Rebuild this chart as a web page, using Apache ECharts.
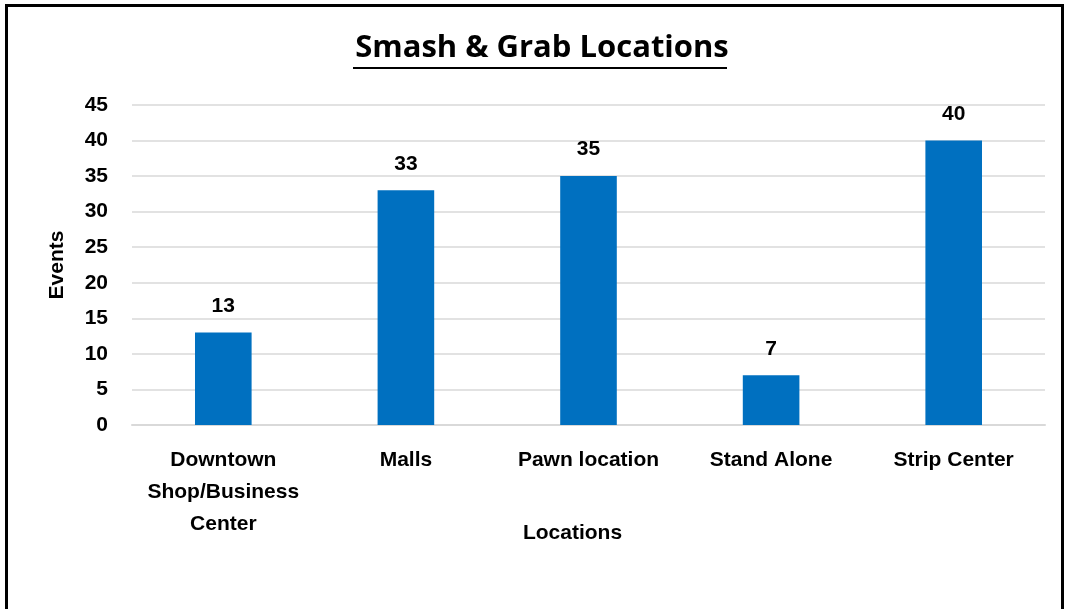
<!DOCTYPE html>
<html>
<head>
<meta charset="utf-8">
<script src="https://cdn.jsdelivr.net/npm/echarts@6/dist/echarts.min.js"></script>
<style>
  html, body { margin: 0; padding: 0; background: #fff; }
  #chart { width: 1065px; height: 609px; }
</style>
</head>
<body>
<div id="chart"></div>
<script>
const categories = ["Downtown\nShop/Business\nCenter", "Malls", "Pawn location", "Stand Alone", "Strip Center"];
const events = [13, 33, 35, 7, 40];
const yTicks = { min: 0, max: 45, interval: 5 };

const chart = echarts.init(document.getElementById("chart"));
const font = "'Liberation Sans', Arial, sans-serif";

chart.setOption({
  animation: false,
  backgroundColor: "#fff",
  title: {
    text: "Smash & Grab Locations",
    left: 537,
    textAlign: "center",
    top: 28,
    textStyle: { fontFamily: "'Open Sans', sans-serif", fontWeight: "bold", fontSize: 31, color: "#000" },
  },
  graphic: [
    {
      type: "rect",
      shape: { x: 6.5, y: 5.5, width: 1056, height: 620 },
      style: { fill: null, stroke: "#000", lineWidth: 3 },
      silent: true,
    },
    {
      type: "rect",
      shape: { x: 353, y: 67, width: 374, height: 2 },
      style: { fill: "#000" },
      silent: true,
    },
  ],
  grid: { left: 132, right: 20, top: 105, bottom: 184 },
  xAxis: {
    type: "category",
    data: categories,
    name: "Locations",
    nameLocation: "middle",
    nameMoveOverlap: false,
    nameGap: 98,
    nameTextStyle: { fontFamily: font, fontWeight: "bold", fontSize: 21, color: "#000", padding: [0, 32, 0, 0] },
    axisLine: { lineStyle: { color: "#d9d9d9", width: 2 } },
    axisTick: { show: false },
    axisLabel: {
      fontFamily: font, fontWeight: "bold", fontSize: 21, color: "#000",
      margin: 19, lineHeight: 32, interval: 0,
    },
  },
  yAxis: {
    type: "value",
    min: yTicks.min,
    max: yTicks.max,
    interval: yTicks.interval,
    name: "Events",
    nameLocation: "middle",
    nameMoveOverlap: false,
    nameGap: 64,
    nameTextStyle: { fontFamily: font, fontWeight: "bold", fontSize: 21, color: "#000" },
    axisLine: { show: false },
    axisTick: { show: false },
    splitLine: { lineStyle: { color: "#d9d9d9", width: 1.5 } },
    axisLabel: { fontFamily: font, fontWeight: "bold", fontSize: 21, color: "#000", margin: 24 },
  },
  series: [
    {
      type: "bar",
      data: events,
      barWidth: "31%",
      itemStyle: { color: "#0070c0" },
      label: {
        show: true,
        position: "top",
        distance: 16,
        fontFamily: font, fontWeight: "bold", fontSize: 21, color: "#000",
      },
    },
  ],
});
</script>
</body>
</html>
